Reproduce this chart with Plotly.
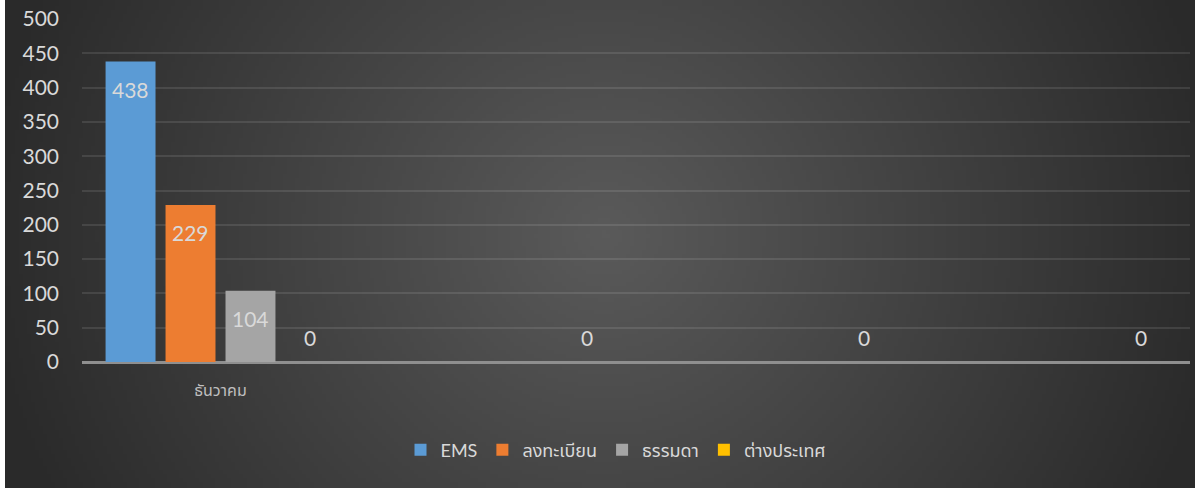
import base64
import struct
import zlib

import numpy as np
import plotly.graph_objects as go

# ---------------- data ----------------
categories = ["ธันวาคม", " ", "  ", "   "]
series_names = ["EMS", "ลงทะเบียน", "ธรรมดา", "ต่างประเทศ"]
ems = [438, None, None, None]
registered = [229, None, None, None]
ordinary = [104, None, None, None]
overseas = [0, 0, 0, 0]
y_ticks = [0, 50, 100, 150, 200, 250, 300, 350, 400, 450, 500]

colors = ["#5b9bd5", "#ed7d31", "#a5a5a5", "#ffc000"]

# ---------------- geometry ----------------
W, H = 1198, 490
ML, MR, MT, MB = 82, 8, 19, 128
PW = W - ML - MR
PH = H - MT - MB
BARGAP = 0.134
GROUPGAP = 0.167

FONT = "Lato, 'Noto Sans Thai', 'Noto Sans', sans-serif"


# ---------------- radial gradient background (PNG data URI) ----------------
def make_png(arr):
    h, w, _ = arr.shape
    raw = b"".join(b"\x00" + arr[i].tobytes() for i in range(h))

    def chunk(tag, data):
        c = struct.pack(">I", len(data)) + tag + data
        return c + struct.pack(">I", zlib.crc32(tag + data) & 0xFFFFFFFF)

    ihdr = struct.pack(">IIBBBBB", w, h, 8, 2, 0, 0, 0)
    return (b"\x89PNG\r\n\x1a\n" + chunk(b"IHDR", ihdr)
            + chunk(b"IDAT", zlib.compress(raw, 9)) + chunk(b"IEND", b""))


bg_w, bg_h = 1190, 488
gw, gh = 298, 122
xs = (np.arange(gw) + 0.5) / gw * bg_w
ys = (np.arange(gh) + 0.5) / gh * bg_h
X, Y = np.meshgrid(xs, ys)
cx, cy, rx, ry = 600, 235, 620, 590
d = np.sqrt(((X - cx) / rx) ** 2 + ((Y - cy) / ry) ** 2)
d = np.clip(d, 0, 1)
c_in, c_out = 90, 42
val = c_in + (c_out - c_in) * d
img = np.stack([val, val, val], axis=-1).round().astype(np.uint8)
png_uri = "data:image/png;base64," + base64.b64encode(make_png(img)).decode()

# ---------------- figure ----------------
fig = go.Figure()
all_vals = [ems, registered, ordinary, overseas]
n_series = len(all_vals)
for i, (name, vals) in enumerate(zip(series_names, all_vals)):
    fig.add_trace(go.Bar(
        name=name,
        x=categories,
        y=vals,
        marker=dict(color=colors[i], line=dict(width=0)),
        cliponaxis=False,
        hoverinfo="skip",
    ))

# data labels: "inside end" for positive bars, just above the axis for zeros
slot = (1 - BARGAP) / n_series
for si, vals in enumerate(all_vals):
    for ci, v in enumerate(vals):
        if v is None:
            continue
        inside = v > 0
        fig.add_annotation(
            x=ci + (si - (n_series - 1) / 2) * slot,
            y=v, xref="x", yref="y",
            text=str(v), showarrow=False,
            yanchor="top" if inside else "bottom",
            yshift=-13 if inside else 10,
            font=dict(family=FONT, size=21, color="#d9d9d9"),
        )

fig.add_layout_image(dict(
    source=png_uri,
    xref="paper", yref="paper",
    x=(5 - ML) / PW, y=1 + MT / PH,
    sizex=bg_w / PW, sizey=bg_h / PH,
    xanchor="left", yanchor="top",
    sizing="stretch", layer="below",
))

fig.update_layout(
    width=W, height=H,
    autosize=False,
    margin=dict(l=ML, r=MR, t=MT, b=MB, autoexpand=False),
    paper_bgcolor="white",
    plot_bgcolor="rgba(0,0,0,0)",
    barmode="group",
    bargap=BARGAP,
    bargroupgap=GROUPGAP,
    font=dict(family=FONT, color="#d9d9d9"),
    showlegend=True,
    legend=dict(
        orientation="h",
        x=(616 - ML) / PW, xanchor="center",
        y=(H - MB - 450) / PH, yanchor="middle",
        font=dict(family=FONT, size=18, color="#d9d9d9"),
        bgcolor="rgba(0,0,0,0)",
        itemclick=False,
    ),
    xaxis=dict(
        showgrid=False,
        showline=False,
        ticks="",
        tickfont=dict(family=FONT, size=16, color="#bfbfbf"),
        ticklabelstandoff=17,
        automargin=False,
        fixedrange=True,
    ),
    yaxis=dict(
        range=[0, 500],
        tickvals=y_ticks,
        showgrid=True,
        gridcolor="rgba(255,255,255,0.10)",
        gridwidth=1.5,
        zeroline=True,
        zerolinecolor="#8f8f8f",
        zerolinewidth=2.5,
        showline=False,
        ticks="",
        tickfont=dict(family=FONT, size=21, color="#d9d9d9"),
        ticklabelstandoff=22,
        automargin=False,
        fixedrange=True,
    ),
)

fig.write_html(
    "out.html",
    config={"displayModeBar": False},
    post_script="document.body.style.margin='0';document.body.style.overflow='hidden';",
)
